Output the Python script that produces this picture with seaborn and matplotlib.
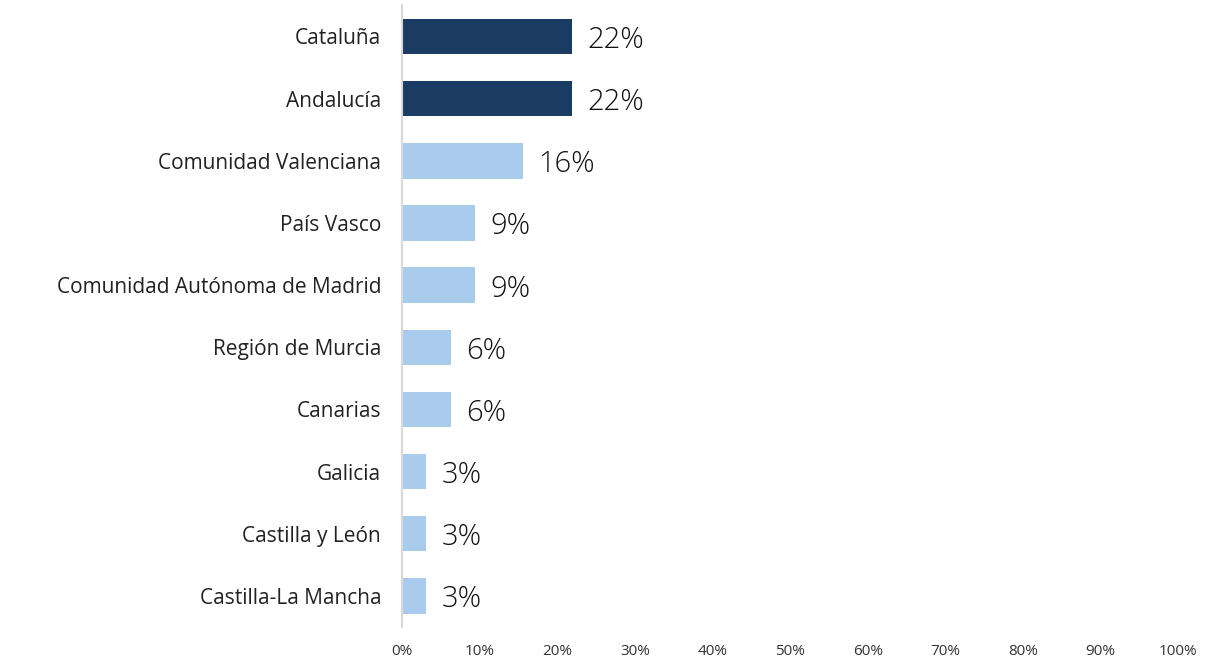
import pandas as pd
import matplotlib.pyplot as plt
import seaborn as sns

# Datos (porcentaje por comunidad)
regiones = ['Cataluña', 'Andalucía', 'Comunidad Valenciana', 'País Vasco',
            'Comunidad Autónoma de Madrid', 'Región de Murcia', 'Canarias',
            'Galicia', 'Castilla y León', 'Castilla-La Mancha']
valores = [21.9, 21.9, 15.6, 9.4, 9.4, 6.3, 6.3, 3.1, 3.1, 3.1]
etiquetas = ['22%', '22%', '16%', '9%', '9%', '6%', '6%', '3%', '3%', '3%']
ticks_x = [0, 10, 20, 30, 40, 50, 60, 70, 80, 90, 100]

OSCURO = '#1a3c62'
CLARO = '#a9cbec'

sns.set_theme(style="white")
plt.rcParams['font.family'] = ['Open Sans', 'DejaVu Sans']

df = pd.DataFrame({'region': regiones, 'valor': valores})
colores = [OSCURO if v >= 20 else CLARO for v in valores]

fig = plt.figure(figsize=(12.19, 6.58), dpi=100)
ax = fig.add_axes([0.3298, 0.0471, 0.6366, 0.9447])

sns.barplot(data=df, x='valor', y='region', hue='region', palette=colores,
            legend=False, width=0.57, saturation=1, linewidth=0, ax=ax)

for i, (v, t) in enumerate(zip(valores, etiquetas)):
    ax.text(v + 2.0, i + 0.06, t, va='center', ha='left', fontsize=21,
            fontweight='light', color='#111111')

ax.set_xlim(0, 100)
ax.set_xticks(ticks_x)
ax.set_xticklabels([f'{t}%' for t in ticks_x], fontsize=11, color='#333333')
ax.tick_params(axis='x', length=0, pad=12)
ax.tick_params(axis='y', length=0, labelsize=15, labelcolor='#222222', pad=15)
ax.set_xlabel('')
ax.set_ylabel('')

for s in ['top', 'right', 'bottom']:
    ax.spines[s].set_visible(False)
ax.spines['left'].set_color('#d9d9d9')
ax.spines['left'].set_linewidth(1.5)

fig.savefig('out.png', dpi=100)
